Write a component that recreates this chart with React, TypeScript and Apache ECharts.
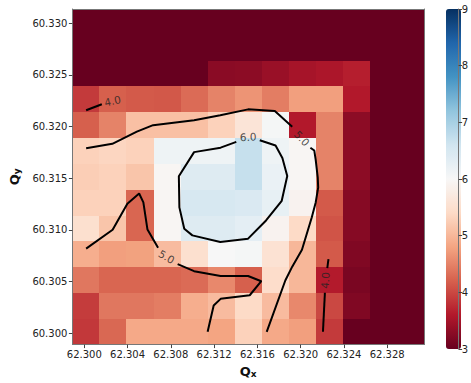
import React, { useEffect, useRef } from "react";
import * as echarts from "echarts";

// cell centres
const qxCenters = [62.30015, 62.30265, 62.30515, 62.30765, 62.31015, 62.31265, 62.31515, 62.31765, 62.32015, 62.32265, 62.32515, 62.32765, 62.33015];
// rows from top to bottom
const qyCenters = [60.33013, 60.32763, 60.32513, 60.32263, 60.32013, 60.31763, 60.31513, 60.31263, 60.31013, 60.30763, 60.30513, 60.30263, 60.30013];

const intensity = [
  [3, 3, 3, 3, 3, 3, 3, 3, 3, 3, 3, 3, 3],
  [3, 3, 3, 3, 3, 3, 3, 3, 3, 3, 3, 3, 3],
  [3, 3, 3, 3, 3, 3.28, 3.3, 3.4, 3.5, 3.55, 3.65, 3, 3],
  [3.88, 4.2, 4.15, 4.13, 4.3, 4.5, 4.65, 4.45, 4.75, 4.75, 3.6, 3, 3],
  [4.2, 4.5, 5.1, 5.1, 5.1, 5.3, 5.6, 6.05, 3.6, 4.5, 3.3, 3, 3],
  [5.3, 5.35, 5.3, 6.15, 6.15, 6.15, 6.7, 6.15, 5.95, 4.5, 3.3, 3, 3],
  [5.25, 5.3, 5.15, 5.95, 6.4, 6.4, 6.7, 6.2, 5.95, 4.5, 3.3, 3, 3],
  [5.3, 5.3, 4.25, 5.95, 6.5, 6.5, 6.45, 6.25, 5.9, 4.15, 3.25, 3, 3],
  [5.5, 5.15, 4.25, 5.95, 6.4, 6.4, 6.3, 5.9, 5.4, 4.1, 3.25, 3, 3],
  [4.9, 4.75, 4.77, 5.05, 5.5, 6.0, 6.05, 5.55, 5.0, 4.15, 3.2, 3, 3],
  [4.4, 4.25, 4.25, 4.25, 4.3, 4.55, 4.2, 5.45, 5.0, 3.62, 3.15, 3, 3],
  [3.9, 4.4, 4.4, 4.45, 4.9, 5.05, 5.4, 5.05, 4.55, 4.0, 3.2, 3, 3],
  [3.87, 4.27, 4.85, 4.85, 4.85, 4.8, 5.3, 4.85, 4.75, 3.88, 3.0, 3, 3],
];

const xTicks = [62.3, 62.304, 62.308, 62.312, 62.316, 62.32, 62.324, 62.328];
const yTicks = [60.3, 60.305, 60.31, 60.315, 60.32, 60.325, 60.33];

// contour polylines (Qx, Qy), split where the inline labels sit
const contour4TopLeft = [[62.30017, 60.32157], [62.30162, 60.32216]];
const contour5UpperA = [
  [62.30017, 60.3179], [62.30259, 60.31832], [62.30486, 60.3195], [62.30636, 60.32013],
  [62.31015, 60.32061], [62.31257, 60.32109], [62.31514, 60.32166], [62.31761, 60.32151],
  [62.31922, 60.31998],
];
const contour5UpperB = [
  [62.3209, 60.31795], [62.32126, 60.31767], [62.32139, 60.31676], [62.32158, 60.31504],
  [62.32162, 60.31408], [62.32139, 60.31265], [62.32103, 60.31121], [62.32012, 60.30806],
  [62.31922, 60.30643], [62.31858, 60.30509], [62.31686, 60.30012],
];
const contour5LowerA = [
  [62.30017, 60.30818], [62.30262, 60.31], [62.30398, 60.31253], [62.30507, 60.31351],
  [62.30546, 60.31265], [62.30584, 60.31002], [62.30682, 60.30825],
];
const contour5LowerB = [
  [62.30863, 60.30667], [62.31015, 60.30599], [62.3126, 60.30552], [62.31514, 60.30552],
  [62.31636, 60.30502], [62.31529, 60.30366], [62.3126, 60.30331], [62.31196, 60.30266],
  [62.3114, 60.30012],
];
const contour6 = [
  [62.31622, 60.31867], [62.31768, 60.31816], [62.31831, 60.31695], [62.31876, 60.3152],
  [62.31825, 60.31281], [62.3168, 60.3109], [62.31514, 60.30914], [62.31257, 60.30882],
  [62.30999, 60.30946], [62.30924, 60.31009], [62.30879, 60.31217], [62.30874, 60.31518],
  [62.31015, 60.31752], [62.3126, 60.31795], [62.31405, 60.31851],
];
const contour4RightA = [[62.32257, 60.30715], [62.32246, 60.30629]];
const contour4RightB = [[62.32224, 60.3039], [62.32206, 60.30012]];

const contourLabelPos = [
  [62.30262, 60.32249],
  [62.32012, 60.31886],
  [62.30761, 60.30739],
  [62.31514, 60.319],
  [62.32226, 60.30509],
];
const contourLabelText = ["4.0", "5.0", "5.0", "6.0", "4.0"];
const contourLabelAngle = [12, -47, -30, 3, 86];

const rdBu = ["#67001f", "#b2182b", "#d6604d", "#f4a582", "#fddbc7", "#f7f7f7", "#d1e5f0", "#92c5de", "#4393c3", "#2166ac", "#053061"];

const FONT = "DejaVu Sans";
const HALF = 0.00125;

export default function App() {
  const ref = useRef<HTMLDivElement>(null);
  useEffect(() => {
    if (!ref.current) return;
    const chart = echarts.init(ref.current, null, { renderer: "svg" });
    const cells: number[][] = [];
    qyCenters.forEach((y, r) => qxCenters.forEach((x, c) => cells.push([x, y, intensity[r][c]])));
    const lines = [contour4TopLeft, contour5UpperA, contour5UpperB, contour5LowerA, contour5LowerB, contour6, contour4RightA, contour4RightB];
    const lineSeries = lines.map((d) => ({
      type: "line",
      data: d,
      xAxisIndex: 0,
      yAxisIndex: 0,
      showSymbol: false,
      symbol: "none",
      silent: true,
      z: 3,
      lineStyle: { color: "#000", width: 2 },
    }));
    const nameRich = (sub: string) => ({
      rich: {
        q: { fontSize: 13, fontWeight: "bold", fontFamily: FONT, color: "#111" },
        s: { fontSize: 9, fontWeight: "bold", fontFamily: FONT, color: "#111", verticalAlign: "bottom", padding: [5, 0, 0, 0] },
      },
    });
    chart.setOption({
      animation: false,
      grid: [
        { left: 66, top: 9, width: 358, height: 340 },
        { left: 446, top: 9, width: 15, height: 340 },
      ],
      xAxis: [
        {
          type: "value", gridIndex: 0, min: 62.2989, max: 62.3314,
          name: "{q|Q}{s|x}", nameLocation: "middle", nameGap: 17,
          nameTextStyle: nameRich("x"),
          axisLine: { show: true, onZero: false, lineStyle: { color: "#777" } },
          axisTick: { show: true, length: 3.5, customValues: xTicks, lineStyle: { color: "#444" } },
          axisLabel: { customValues: xTicks, formatter: (v: number) => v.toFixed(3), fontSize: 10, fontFamily: FONT, color: "#222", margin: 5 },
          splitLine: { show: false },
          z: 5,
        },
        {
          type: "value", gridIndex: 0, position: "top", min: 62.2989, max: 62.3314,
          axisLine: { show: true, onZero: false, lineStyle: { color: "#777" } },
          axisTick: { show: false }, axisLabel: { show: false }, splitLine: { show: false }, z: 5,
        },
        { type: "value", gridIndex: 1, show: false, min: 0, max: 1 },
      ],
      yAxis: [
        {
          type: "value", gridIndex: 0, min: 60.29888, max: 60.33138,
          name: "{q|Q}{s|y}", nameLocation: "middle", nameGap: 42, nameRotate: 90,
          nameTextStyle: nameRich("y"),
          axisLine: { show: true, onZero: false, lineStyle: { color: "#777" } },
          axisTick: { show: true, length: 3.5, customValues: yTicks, lineStyle: { color: "#444" } },
          axisLabel: { customValues: yTicks, formatter: (v: number) => v.toFixed(3), fontSize: 10, fontFamily: FONT, color: "#222", margin: 5 },
          splitLine: { show: false },
          z: 5,
        },
        {
          type: "value", gridIndex: 0, position: "right", min: 60.29888, max: 60.33138,
          axisLine: { show: true, onZero: false, lineStyle: { color: "#777" } },
          axisTick: { show: false }, axisLabel: { show: false }, splitLine: { show: false }, z: 5,
        },
        {
          type: "value", gridIndex: 1, position: "right", min: 3, max: 9, interval: 1,
          axisLine: { show: true, onZero: false, lineStyle: { color: "#777" } },
          axisTick: { show: true, length: 3.5, lineStyle: { color: "#444" } },
          axisLabel: { fontSize: 10, fontFamily: FONT, color: "#222", margin: 3 },
          splitLine: { show: false },
          z: 5,
        },
      ],
      visualMap: {
        type: "continuous",
        min: 3, max: 9, dimension: 2, seriesIndex: 0,
        calculable: false, show: true, hoverLink: false,
        left: 446, top: 9, itemWidth: 15, itemHeight: 340, padding: 0,
        inRange: { color: rdBu },
      },
      series: [
        {
          type: "custom",
          xAxisIndex: 0, yAxisIndex: 0,
          data: cells,
          encode: { x: 0, y: 1 },
          clip: true,
          silent: true,
          renderItem: (_p: any, api: any) => {
            const x = api.value(0);
            const y = api.value(1);
            const a = api.coord([x - HALF, y + HALF]);
            const b = api.coord([x + HALF, y - HALF]);
            const x0 = Math.round(a[0]);
            const y0 = Math.round(a[1]);
            const x1 = Math.round(b[0]);
            const y1 = Math.round(b[1]);
            return {
              type: "rect",
              shape: { x: x0, y: y0, width: x1 - x0, height: y1 - y0 },
              style: { fill: api.visual("color") },
            };
          },
        },
        ...lineSeries,
        {
          type: "scatter",
          xAxisIndex: 0, yAxisIndex: 0,
          symbolSize: 1,
          silent: true,
          z: 4,
          itemStyle: { color: "rgba(0,0,0,0)" },
          data: contourLabelPos.map((p, i) => ({
            value: p,
            label: { show: true, position: "inside", formatter: contourLabelText[i], rotate: contourLabelAngle[i], fontSize: 10.5, fontFamily: FONT, color: "#222" },
          })),
        },
      ],
    });
    return () => chart.dispose();
  }, []);
  return <div ref={ref} style={{ position: "fixed", left: 0, top: 0, width: 471, height: 383, background: "#fff" }} />;
}
